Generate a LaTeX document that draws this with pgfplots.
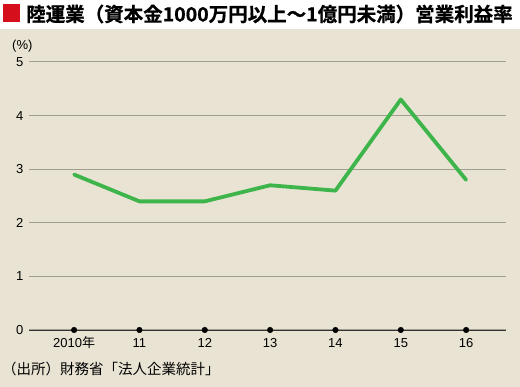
\documentclass[border=0pt]{standalone}
\usepackage{pgfplots}
\pgfplotsset{compat=1.18}
\usepackage{fontspec}
\setmainfont{Liberation Sans}
\newfontfamily\cjk[BoldFont={Noto Sans CJK JP Bold},BoldFeatures={FakeBold=0.8}]{Noto Sans CJK JP}
\definecolor{bg}{HTML}{E9E3D3}
\definecolor{gridc}{HTML}{A39E92}
\definecolor{lineg}{HTML}{3DB54A}
\definecolor{redsq}{HTML}{D50F1B}
\pgfplotstableread{
x y
0 2.9
1 2.4
2 2.4
3 2.7
4 2.6
5 4.3
6 2.8
}\datatable
\begin{document}
\begin{tikzpicture}[x=1pt,y=1pt]
\fill[white] (0,0) rectangle (520,387);
\fill[bg] (0,0) rectangle (520,358);
\fill[redsq] (3,365) rectangle (20,383);
\node[anchor=west,inner sep=0pt] at (26,373) {\cjk\bfseries\fontsize{19.5}{20}\selectfont 陸運業（資本金1000万円以上～1億円未満）営業利益率};
\node[anchor=west,inner sep=0pt] at (12,341) {\fontsize{13}{14}\selectfont (\%)};
\node[anchor=west,inner sep=0pt] at (2,18) {\cjk\fontsize{14.5}{16}\selectfont （出所）財務省「法人企業統計」};
\begin{axis}[
  at={(29pt,57pt)}, anchor=south west,
  scale only axis, width=477pt, height=268pt,
  xmin=-0.69, xmax=6.61, ymin=0, ymax=5,
  axis x line*=bottom, axis y line*=left,
  y axis line style={draw=none},
  x axis line style={draw=black!80, line width=0.9pt},
  ytick={0,1,2,3,4,5},
  xtick={0,1,2,3,4,5,6},
  xticklabels={2010{\cjk 年},11,12,13,14,15,16},
  major tick length=0pt,
  ymajorgrids, grid style={draw=gridc, line width=1pt},
  /pgf/number format/assume math mode=true,
  tick label style={font=\fontsize{13}{15}\selectfont, text=black},
  yticklabel style={xshift=-2pt},
  xticklabel style={anchor=base, yshift=-18pt},
  clip=false,
]
\addplot[lineg, line width=3.8pt, line join=round, line cap=round] table[x=x,y=y]{\datatable};
\addplot[only marks, mark=*, mark size=2.8pt, black] coordinates {(0,0)(1,0)(2,0)(3,0)(4,0)(5,0)(6,0)};
\end{axis}
\end{tikzpicture}
\end{document}
